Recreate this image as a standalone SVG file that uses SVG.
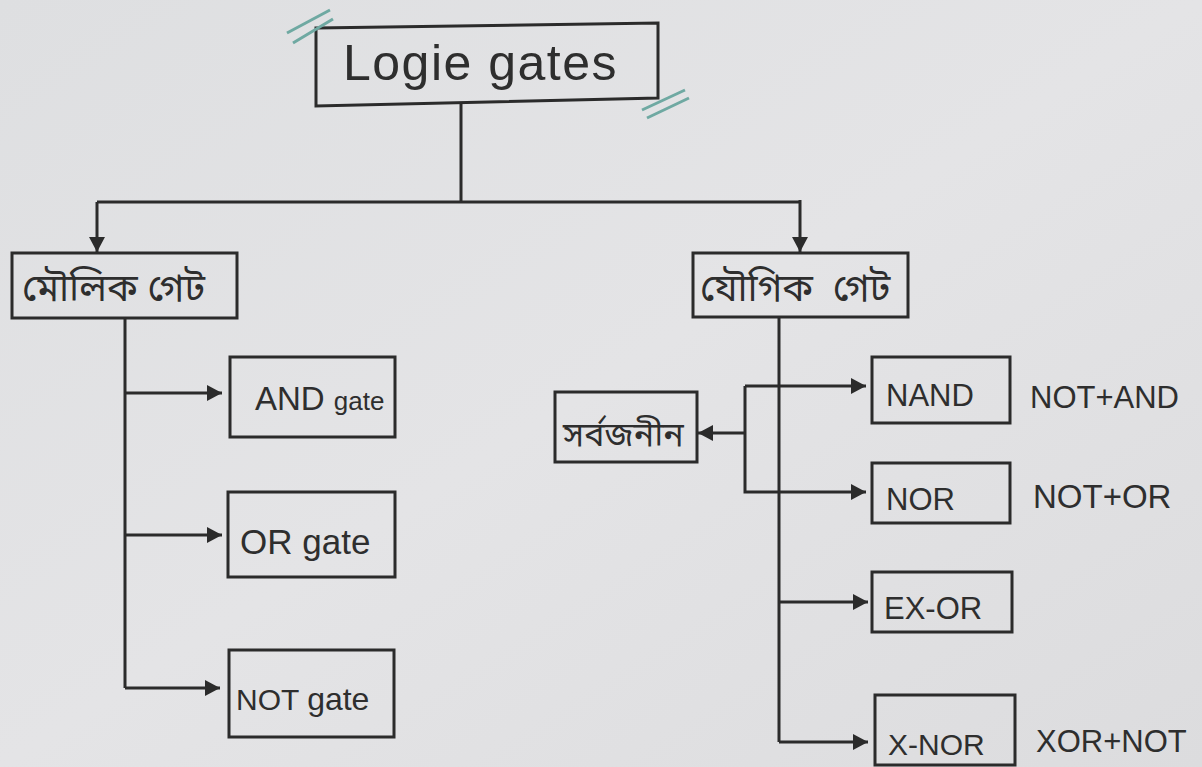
<svg xmlns="http://www.w3.org/2000/svg" width="1202" height="767" viewBox="0 0 1202 767">
<style>
.box{fill:none;stroke:#2b2b2b;stroke-width:3}
.ln{fill:none;stroke:#2b2b2b;stroke-width:3}
.t{font-family:"Liberation Sans","DejaVu Sans",sans-serif;fill:#2e2e2e}
.bn{font-family:"Noto Sans Bengali","Lohit Bengali","FreeSans","Noto Sans",sans-serif;fill:#2e2e2e}
.hash{stroke:#6fa9a2;stroke-width:3;fill:none}
</style>
<defs>
<marker id="ah" markerUnits="userSpaceOnUse" markerWidth="18" markerHeight="18" refX="15" refY="8" orient="auto">
<path d="M0,0 L15,8 L0,16 z" fill="#2b2b2b"/>
</marker>
<linearGradient id="bg" x1="0" y1="0" x2="1" y2="1">
<stop offset="0" stop-color="#dedfe1"/>
<stop offset="0.5" stop-color="#e4e4e6"/>
<stop offset="1" stop-color="#dcdcde"/>
</linearGradient>
</defs>
<rect width="1202" height="767" fill="url(#bg)"/>

<g id="connectors">
<path class="ln" d="M461,103 V201"/>
<path class="ln" d="M97,202 H800"/>
<path class="ln" d="M97,202 V252" marker-end="url(#ah)"/>
<path class="ln" d="M800,200 V252" marker-end="url(#ah)"/>
<path class="ln" d="M125,318 V688"/>
<path class="ln" d="M125,393 H222" marker-end="url(#ah)"/>
<path class="ln" d="M125,535 H222" marker-end="url(#ah)"/>
<path class="ln" d="M125,688 H220" marker-end="url(#ah)"/>
<path class="ln" d="M779,317 V742"/>
<path class="ln" d="M745,386 H866" marker-end="url(#ah)"/>
<path class="ln" d="M745,386 V492 H866" marker-end="url(#ah)"/>
<path class="ln" d="M745,433 H698" marker-end="url(#ah)"/>
<path class="ln" d="M779,602 H868" marker-end="url(#ah)"/>
<path class="ln" d="M779,742 H868" marker-end="url(#ah)"/>
</g>

<g id="root">
<path class="box" d="M316,28 L658,23 L658,98 L316,106 Z"/>
<text class="t" x="343" y="80" font-size="50" letter-spacing="1.5">Logie gates</text>
<path class="hash" d="M287,33 L330,10 M293,43 L333,19"/>
<path class="hash" d="M642,110 L685,90 M647,118 L689,98"/>
</g>

<g id="basic">
<rect class="box" x="12" y="253" width="225" height="65"/>
<text class="bn" x="22" y="301" font-size="38">মৌলিক গেট</text>
</g>

<g id="compound">
<rect class="box" x="693" y="253" width="215" height="64"/>
<text class="bn" x="700" y="301" font-size="38" word-spacing="10">যৌগিক গেট</text>
</g>

<g id="and">
<rect class="box" x="230" y="357" width="165" height="80"/>
<text class="t" x="255" y="410" font-size="33">AND <tspan font-size="26">gate</tspan></text>
</g>

<g id="or">
<rect class="box" x="228" y="492" width="167" height="85"/>
<text class="t" x="240" y="554" font-size="35">OR gate</text>
</g>

<g id="not">
<rect class="box" x="229" y="650" width="165" height="87"/>
<text class="t" x="236" y="710" font-size="30">NOT <tspan font-size="32">gate</tspan></text>
</g>

<g id="universal">
<rect class="box" x="555" y="392" width="142" height="70"/>
<text class="bn" x="563" y="446" font-size="34">সর্বজনীন</text>
</g>

<g id="nand">
<rect class="box" x="872" y="357" width="138" height="66"/>
<text class="t" x="886" y="406" font-size="31">NAND</text>
<text class="t" x="1030" y="408" font-size="31">NOT+AND</text>
</g>

<g id="nor">
<rect class="box" x="872" y="463" width="138" height="60"/>
<text class="t" x="886" y="510" font-size="31">NOR</text>
<text class="t" x="1033" y="508" font-size="33">NOT+OR</text>
</g>

<g id="exor">
<rect class="box" x="872" y="572" width="140" height="60"/>
<text class="t" x="884" y="619" font-size="31">EX-OR</text>
</g>

<g id="xnor">
<rect class="box" x="875" y="695" width="140" height="70"/>
<text class="t" x="888" y="755" font-size="30">X-NOR</text>
<text class="t" x="1036" y="752" font-size="31">XOR+NOT</text>
</g>
</svg>
